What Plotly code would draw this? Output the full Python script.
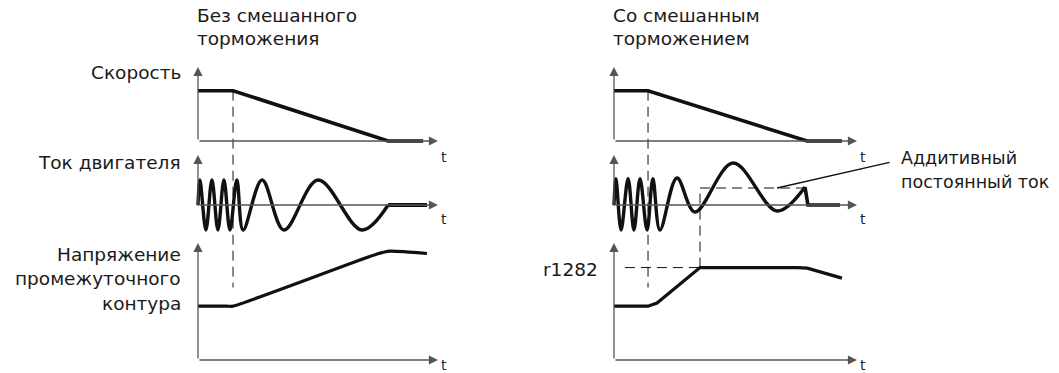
import plotly.graph_objects as go

# ---- data (time in arbitrary units 0..10, values normalised per panel) ----
# left column: without mixed braking
speed_l_t = [0, 1.46, 7.92, 9.38]
speed_l_v = [0.68, 0.68, 0, 0]

cur_l_t = [0, 0.08, 0.33, 0.58, 0.83, 1.08, 1.33, 1.62, 1.88, 2.67, 3.58, 5.0, 6.83, 7.92]
cur_l_v = [0, 1, -1, 1, -1, 1, -1, 1, -1, 1, -1, 1, -1, 0]
cur_l_tail_t = [7.92, 9.54]
cur_l_tail_v = [0, 0]

volt_l_t = [0, 1.2, 1.46, 7.46, 8.0, 9.54]
volt_l_v = [0.46, 0.46, 0.46, 0.906, 0.93, 0.91]

# right column: with mixed braking
speed_r_t = [0, 1.40, 7.94, 9.38]
speed_r_v = [0.68, 0.68, 0, 0]

cur_r_t = [0, 0.08, 0.29, 0.58, 0.82, 1.07, 1.36, 1.60, 1.89, 2.59, 3.33, 4.90, 6.71, 7.86]
cur_r_v = [0, 1.05, -1, 1.05, -1, 1.05, -1, 1.05, -1, 1.08, -0.28, 1.68, -0.24, 0.72]
cur_r_tail_t = [7.86, 7.98, 9.30]
cur_r_tail_v = [0.72, 0, 0]

dc_t = [3.54, 7.78]
dc_level = 0.68

volt_r_t = [0, 1.40, 1.77, 3.54, 7.57, 7.95, 9.38]
volt_r_v = [0.46, 0.46, 0.487, 0.79, 0.79, 0.785, 0.70]
r1282_level = 0.79
r1282_t = [0.45, 3.54]

brake_l = 1.46
brake_r = 1.40

# ---- layout helpers ----
W, H = 1059, 373
FONT = "DejaVu Sans, Liberation Sans, Arial, sans-serif"
SPEED = dict(zero=141, ppu=74, lo=-0.15, hi=1.05, top=1.0, tshift=-14)
CUR = dict(zero=205, ppu=25, lo=-1.3, hi=2.1, top=2.0, tshift=-12)
VOLT = dict(zero=360, ppu=117, lo=-0.1, hi=1.05, top=1.0, tshift=-3)
LEFT = dict(origin=198, ppu=24.0, x='x', ys=['y', 'y2', 'y3'])
RIGHT = dict(origin=614, ppu=24.3, x='x2', ys=['y4', 'y5', 'y6'])
XLO, XHI = -0.4, 10.6


def ypaper(p, v):
    return 1 - (p['zero'] - v * p['ppu']) / H


def xdomain(c):
    return [(c['origin'] + XLO * c['ppu']) / W, (c['origin'] + XHI * c['ppu']) / W]


def line(t, v, xa, ya, width=3.4, shape='linear', smooth=None, dash=None, color='#111'):
    ln = dict(color=color, width=width, shape=shape, dash=dash)
    if smooth is not None:
        ln['smoothing'] = smooth
    return go.Scatter(x=t, y=v, xaxis=xa, yaxis=ya, mode='lines', line=ln,
                      hoverinfo='skip', showlegend=False)


fig = go.Figure()

L, R = LEFT, RIGHT
fig.add_trace(line(speed_l_t, speed_l_v, 'x', 'y', width=3.6))
fig.add_trace(line(cur_l_t, cur_l_v, 'x', 'y2', width=3.4, shape='spline', smooth=1.0))
fig.add_trace(line(cur_l_tail_t, cur_l_tail_v, 'x', 'y2', width=4))
fig.add_trace(line(volt_l_t, volt_l_v, 'x', 'y3', width=3.2, shape='spline', smooth=0.5))

fig.add_trace(line(speed_r_t, speed_r_v, 'x2', 'y4', width=3.6))
fig.add_trace(line(cur_r_t, cur_r_v, 'x2', 'y5', width=3.4, shape='spline', smooth=1.0))
fig.add_trace(line(cur_r_tail_t, cur_r_tail_v, 'x2', 'y5', width=3.6))
fig.add_trace(line(volt_r_t, volt_r_v, 'x2', 'y6', width=3.2))

# dashed guides
dash = '10px,6px'
fig.add_trace(line(dc_t, [dc_level] * 2, 'x2', 'y5', width=1, dash=dash))
fig.add_trace(line(r1282_t, [r1282_level] * 2, 'x2', 'y6', width=1, dash=dash))

shapes = []
for xa, tb in (('x', brake_l), ('x2', brake_r)):
    shapes.append(dict(type='line', xref=xa, yref='paper', x0=tb, x1=tb,
                       y0=ypaper(SPEED, 0.68), y1=ypaper(VOLT, 0.62),
                       line=dict(color='#111', width=1, dash=dash)))
shapes.append(dict(type='line', xref='x2', yref='paper', x0=dc_t[0], x1=dc_t[0],
                   y0=ypaper(VOLT, r1282_level), y1=ypaper(CUR, dc_level),
                   line=dict(color='#111', width=1, dash=dash)))

annotations = []
axis_col = '#555'
for c in (L, R):
    for ya, p in zip(c['ys'], (SPEED, CUR, VOLT)):
        # vertical axis arrow
        annotations.append(dict(xref=c['x'], yref=ya, axref=c['x'], ayref=ya,
                                x=0, y=p['top'], ax=0, ay=0 if p is not CUR else -0.1,
                                text='', showarrow=True, arrowhead=2, arrowsize=1.4,
                                arrowwidth=1.3, arrowcolor=axis_col))
        # horizontal axis arrow
        annotations.append(dict(xref=c['x'], yref=ya, axref=c['x'], ayref=ya,
                                x=10, y=0, ax=0, ay=0,
                                text='', showarrow=True, arrowhead=2, arrowsize=1.4,
                                arrowwidth=1.3, arrowcolor=axis_col))
        annotations.append(dict(xref=c['x'], yref=ya, x=10, y=0, text='t',
                                showarrow=False, xanchor='center', yanchor='top',
                                xshift=6, yshift=p['tshift'] + 8, height=16,
                                font=dict(family=FONT, size=14, color='#222')))

txt = dict(family=FONT, size=18.5, color='#1a1a1a')


def label(x, y, s, anchor='right', size=None):
    f = dict(txt, size=size) if size else txt
    annotations.append(dict(xref='paper', yref='paper', x=x / W, y=1 - y / H, text=s,
                            showarrow=False, xanchor=anchor, yanchor='middle', font=f))


label(183, 72, 'Скорость')
label(183, 162, 'Ток двигателя')
label(183, 254, 'Напряжение')
label(183, 278, 'промежуточного')
label(183, 303, 'контура')
label(195, 15, 'Без смешанного', 'left')
label(195, 39, 'торможения', 'left')
label(611, 15, 'Со смешанным', 'left')
label(611, 39, 'торможением', 'left')
label(600, 269, 'r1282')
label(899, 158, 'Аддитивный', 'left', 17.5)
label(899, 182, 'постоянный ток', 'left', 17.5)

# leader line to the additive DC
annotations.append(dict(xref='x2', yref='y5', x=6.71, y=dc_level, ax=114, ay=-26,
                        text='', showarrow=True, arrowhead=0, arrowwidth=1.3,
                        arrowcolor='#111'))

layout = dict(width=W, height=H, margin=dict(l=0, r=0, t=0, b=0),
              paper_bgcolor='white', plot_bgcolor='rgba(0,0,0,0)',
              shapes=shapes, annotations=annotations, showlegend=False)
for c in (L, R):
    key = 'xaxis' if c['x'] == 'x' else 'xaxis2'
    layout[key] = dict(domain=xdomain(c), range=[XLO, XHI], visible=False, fixedrange=True)
    for ya, p in zip(c['ys'], (SPEED, CUR, VOLT)):
        k = 'yaxis' if ya == 'y' else 'yaxis' + ya[1:]
        layout[k] = dict(domain=[ypaper(p, p['lo']), ypaper(p, p['hi'])],
                         range=[p['lo'], p['hi']], visible=False, fixedrange=True,
                         anchor=c['x'])
fig.update_layout(**layout)

fig.write_html("out.html", config={'displayModeBar': False},
               post_script="document.body.style.margin='0px';")
